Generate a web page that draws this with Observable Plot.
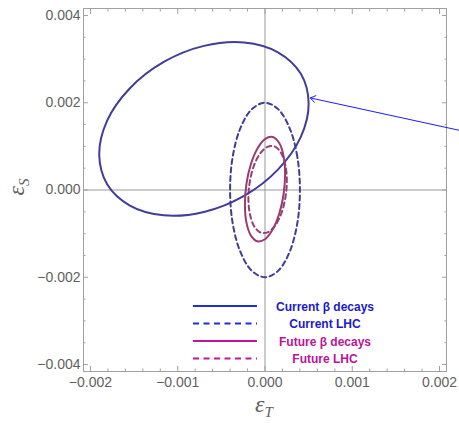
<!DOCTYPE html>
<html><head><meta charset="utf-8">
<script src="https://cdn.jsdelivr.net/npm/d3@7"></script>
<script src="https://cdn.jsdelivr.net/npm/@observablehq/plot@0.6"></script>
<style>
body{margin:0;background:#fff;}
#wrap{position:relative;width:459px;height:423px;overflow:hidden;}
#wrap svg{position:absolute;left:0;top:0;}
</style></head><body><div id="wrap"></div>
<script>
// Contours: [eps_T, eps_S]
const currentBeta = [
  [5.00e-4, 19.83e-4],[4.09e-4, 26.68e-4],[1.48e-4, 31.57e-4],[-2.40e-4, 33.81e-4],
  [-7.00e-4, 33.03e-4],[-11.60e-4, 29.35e-4],[-15.48e-4, 23.33e-4],[-18.09e-4, 15.90e-4],
  [-19.00e-4, 8.17e-4],[-18.09e-4, 1.32e-4],[-15.48e-4, -3.57e-4],[-11.60e-4, -5.81e-4],
  [-7.00e-4, -5.03e-4],[-2.40e-4, -1.35e-4],[1.48e-4, 4.67e-4],[4.09e-4, 12.10e-4]
];
const currentLHC = [
  [4.00e-4, 0],[3.70e-4, 7.65e-4],[2.83e-4, 14.14e-4],[1.53e-4, 18.48e-4],
  [0, 20.00e-4],[-1.53e-4, 18.48e-4],[-2.83e-4, 14.14e-4],[-3.70e-4, 7.65e-4],
  [-4.00e-4, 0],[-3.70e-4, -7.65e-4],[-2.83e-4, -14.14e-4],[-1.53e-4, -18.48e-4],
  [0, -20.00e-4],[1.53e-4, -18.48e-4],[2.83e-4, -14.14e-4],[3.70e-4, -7.65e-4]
];
const futureBeta = [
  [2.30e-4, 3.70e-4],[2.13e-4, 7.83e-4],[1.63e-4, 10.79e-4],[0.88e-4, 12.15e-4],
  [0, 11.68e-4],[-0.88e-4, 9.47e-4],[-1.63e-4, 5.85e-4],[-2.13e-4, 1.37e-4],
  [-2.30e-4, -3.30e-4],[-2.13e-4, -7.43e-4],[-1.63e-4, -10.39e-4],[-0.88e-4, -11.75e-4],
  [0, -11.28e-4],[0.88e-4, -9.07e-4],[1.63e-4, -5.45e-4],[2.13e-4, -0.97e-4]
];
const futureLHC = [
  [2.50e-4, 2.10e-4],[2.33e-4, 5.70e-4],[1.86e-4, 8.44e-4],[1.14e-4, 9.93e-4],
  [0.30e-4, 9.90e-4],[-0.54e-4, 8.39e-4],[-1.26e-4, 5.62e-4],[-1.73e-4, 2.00e-4],
  [-1.90e-4, -1.90e-4],[-1.73e-4, -5.50e-4],[-1.26e-4, -8.24e-4],[-0.54e-4, -9.73e-4],
  [0.30e-4, -9.70e-4],[1.14e-4, -8.19e-4],[1.86e-4, -5.42e-4],[2.33e-4, -1.80e-4]
];
const arrowFrom = [2.36e-3, 1.31e-3];
const arrowTo = [0.52e-3, 2.11e-3];

const xTicks = [-0.002, -0.001, 0, 0.001, 0.002];
const yTicks = [-0.004, -0.002, 0, 0.002, 0.004];
const xMinor = [-0.0018,-0.0016,-0.0014,-0.0012,-0.0008,-0.0006,-0.0004,-0.0002,0.0002,0.0004,0.0006,0.0008,0.0012,0.0014,0.0016,0.0018];
const yMinor = [-0.0035,-0.003,-0.0025,-0.0015,-0.001,-0.0005,0.0005,0.001,0.0015,0.0025,0.003,0.0035];

const legendLabels = ["Current \u03b2 decays", "Current LHC", "Future \u03b2 decays", "Future LHC"];

const cBlue = "#3f3d99", cMag = "#993d71";
const fmt = d3.format(".3f");
const frameGray = "#a0a0a0";
const txtGray = "#5f5f5f";

const plot = Plot.plot({
  width: 459, height: 423,
  marginTop: 8, marginRight: 13, marginBottom: 52, marginLeft: 83,
  x: {domain: [-0.00208, 0.00208]},
  y: {domain: [-0.00416, 0.00416]},
  style: {background: "#fff", fontFamily: "Liberation Sans, Arial, sans-serif"},
  marks: [
    Plot.ruleX([0], {stroke: "#999", strokeWidth: 1}),
    Plot.ruleY([0], {stroke: "#999", strokeWidth: 1}),
    Plot.frame({stroke: frameGray}),
    // tick labels
    Plot.axisX(xTicks, {anchor: "bottom", tickSize: 0, tickPadding: 6, tickFormat: fmt, fontSize: 14, fill: txtGray, label: null}),
    Plot.axisY(yTicks, {anchor: "left", tickSize: 0, tickPadding: 3, tickFormat: fmt, fontSize: 14, fill: txtGray, label: null}),
    // inward ticks
    Plot.axisX(xTicks, {anchor: "bottom", tickSize: -5, text: null, stroke: frameGray, label: null}),
    Plot.axisX(xMinor, {anchor: "bottom", tickSize: -2.5, text: null, stroke: frameGray, label: null}),
    Plot.axisX(xTicks, {anchor: "top", tickSize: -5, text: null, stroke: frameGray, label: null}),
    Plot.axisX(xMinor, {anchor: "top", tickSize: -2.5, text: null, stroke: frameGray, label: null}),
    Plot.axisY(yTicks, {anchor: "left", tickSize: -5, text: null, stroke: frameGray, label: null}),
    Plot.axisY(yMinor, {anchor: "left", tickSize: -2.5, text: null, stroke: frameGray, label: null}),
    Plot.axisY(yTicks, {anchor: "right", tickSize: -5, text: null, stroke: frameGray, label: null}),
    Plot.axisY(yMinor, {anchor: "right", tickSize: -2.5, text: null, stroke: frameGray, label: null}),
    // contours
    Plot.line(currentLHC, {x: d => d[0], y: d => d[1], curve: "catmull-rom-closed", stroke: cBlue, strokeWidth: 2, strokeDasharray: "5,3.5"}),
    Plot.line(futureLHC, {x: d => d[0], y: d => d[1], curve: "catmull-rom-closed", stroke: cMag, strokeWidth: 2, strokeDasharray: "5,3.5"}),
    Plot.line(currentBeta, {x: d => d[0], y: d => d[1], curve: "catmull-rom-closed", stroke: cBlue, strokeWidth: 2}),
    Plot.line(futureBeta, {x: d => d[0], y: d => d[1], curve: "catmull-rom-closed", stroke: cMag, strokeWidth: 2}),
    Plot.arrow([{a: arrowFrom, b: arrowTo}], {x1: d => d.a[0], y1: d => d.a[1], x2: d => d.b[0], y2: d => d.b[1], stroke: "#1a1aff", strokeWidth: 1, headLength: 9, headAngle: 70})
  ]
});
const wrap = document.getElementById("wrap");
wrap.appendChild(plot);

// overlay: axis titles and legend
const ns = "http://www.w3.org/2000/svg";
const ov = d3.select(wrap).append("svg").attr("width", 459).attr("height", 423)
  .attr("xmlns", ns).style("pointer-events", "none");

const lblFont = "Liberation Serif, Times New Roman, serif";
const ys = ov.append("text").attr("transform", "translate(24,187) rotate(-90)")
  .attr("text-anchor", "middle").attr("fill", txtGray).attr("font-family", lblFont).attr("font-style", "italic");
ys.append("tspan").attr("font-size", 24).text("\u03b5");
ys.append("tspan").attr("font-size", 15).attr("dy", 5).text("S");

const xt = ov.append("text").attr("x", 264).attr("y", 412)
  .attr("text-anchor", "middle").attr("fill", txtGray).attr("font-family", lblFont).attr("font-style", "italic");
xt.append("tspan").attr("font-size", 24).text("\u03b5");
xt.append("tspan").attr("font-size", 15).attr("dy", 5).text("T");

const legColors = ["#1f2fd6", "#1f2fd6", "#c0169c", "#c0169c"];
const legText = ["#1a1acc", "#1a1acc", "#b81499", "#b81499"];
const legDash = [null, "6,4.5", null, "6,4.5"];
const rowY = [306, 323.5, 341, 358.5];
legendLabels.forEach((t, i) => {
  const l = ov.append("line").attr("x1", 193).attr("x2", 257).attr("y1", rowY[i]).attr("y2", rowY[i])
    .attr("stroke", legColors[i]).attr("stroke-width", 2.2);
  if (legDash[i]) l.attr("stroke-dasharray", legDash[i]);
  ov.append("text").attr("x", 325).attr("y", rowY[i] + 4.5).attr("text-anchor", "middle")
    .attr("font-family", "Liberation Sans, Arial, sans-serif").attr("font-weight", "bold")
    .attr("font-size", 12).attr("fill", legText[i]).text(t);
});
</script></body></html>
